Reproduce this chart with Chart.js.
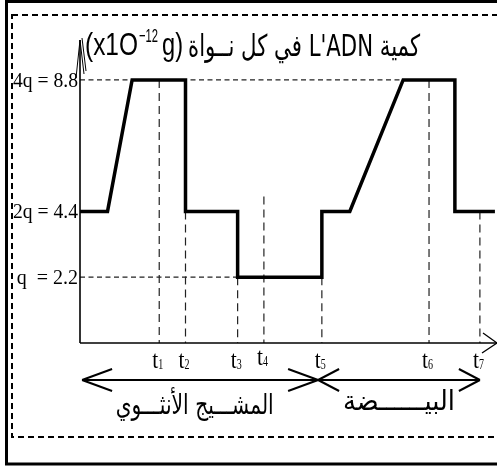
<!DOCTYPE html>
<html lang="ar">
<head>
<meta charset="utf-8">
<script src="https://cdn.jsdelivr.net/npm/chart.js@4.4.0/dist/chart.umd.min.js"></script>
<style>
    body { margin: 0; background: #fff; }
    canvas { display: block; }
</style>
</head>
<body>
<canvas id="adn" width="497" height="468"></canvas>
<script>
// time (arbitrary units) and DNA quantity (x10^-12 g) along the curve
const stepTimes = [0, 6.6, 12.5, 25.3, 25.3, 37.8, 37.8, 58, 58, 64.7, 77.5, 89.9, 89.9, 99.5];
const dnaValues = [4.4, 4.4, 8.8, 8.8, 4.4, 4.4, 2.2, 2.2, 4.4, 4.4, 8.8, 8.8, 4.4, 4.4];

// moments t1..t7 and the height where their dashed guide starts
const markTimes = [19, 25.3, 37.8, 44.1, 58, 83.7, 95.9];
const markNames = ['1', '2', '3', '4', '5', '6', '7'];
const markTops = [8.8, 4.4, 2.2, 4.9, 2.2, 8.8, 4.4];

// y levels
const levelValues = [2.2, 4.4, 8.8];
const levelLabels = ['q  = 2.2', '2q = 4.4', '4q = 8.8'];
const levelEnds = [37.8, 0, 77.5];

// phases under the axis
const phaseStart = [0.5, 57.1];
const phaseEnd = [57.1, 95.9];
const phaseNames = ['المشـــيج الأنثـــوي', 'البيــــــضة'];
const phaseCenters = [27.5, 76.5];

const titleText = 'كمية L\'ADN في كل نــواة';

function line(ctx, x1, y1, x2, y2) {
    ctx.beginPath();
    ctx.moveTo(x1, y1);
    ctx.lineTo(x2, y2);
    ctx.stroke();
}

const sketch = {
    id: 'sketch',
    beforeDatasetsDraw(chart) {
        const ctx = chart.ctx;
        const x = chart.scales.x;
        const y = chart.scales.y;
        const x0 = x.getPixelForValue(0);
        ctx.save();
        ctx.strokeStyle = '#222';
        ctx.lineWidth = 1.2;

        // horizontal dashed guides
        ctx.setLineDash([5, 3.5]);
        levelValues.forEach((v, i) => {
            if (levelEnds[i] > 0) {
                line(ctx, x0, y.getPixelForValue(v), x.getPixelForValue(levelEnds[i]), y.getPixelForValue(v));
            }
        });

        // vertical dashed guides
        ctx.setLineDash([8, 5]);
        markTimes.forEach((t, i) => {
            const px = x.getPixelForValue(t);
            line(ctx, px, y.getPixelForValue(markTops[i]), px, y.getPixelForValue(0));
        });
        ctx.restore();
    },
    afterDatasetsDraw(chart) {
        const ctx = chart.ctx;
        const x = chart.scales.x;
        const y = chart.scales.y;
        const x0 = x.getPixelForValue(0);
        const y0 = y.getPixelForValue(0);
        const yTop = y.getPixelForValue(10);
        const xEnd = chart.width;

        ctx.save();
        ctx.strokeStyle = '#000';
        ctx.fillStyle = '#000';

        // axes
        ctx.lineWidth = 1.6;
        line(ctx, x0, y0, x0, yTop - 4);
        line(ctx, x0, y0, xEnd, y0);
        ctx.lineWidth = 1.3;
        line(ctx, xEnd, y0, xEnd - 14, y0 - 10);
        line(ctx, xEnd, y0, xEnd - 15, y0 + 10);
        ctx.lineWidth = 1;
        line(ctx, x0, yTop - 4, x0 - 4, yTop + 34);
        line(ctx, x0, yTop - 4, x0 + 4, yTop + 30);
        line(ctx, x0 + 2, yTop - 6, x0 + 6, yTop + 27);

        // y labels
        ctx.font = '20px "Liberation Serif", serif';
        ctx.textAlign = 'right';
        ctx.textBaseline = 'alphabetic';
        levelValues.forEach((v, i) => {
            ctx.fillText(levelLabels[i], x0 - 2, y.getPixelForValue(v) + 7, 65);
        });

        // t labels
        ctx.textAlign = 'left';
        markTimes.forEach((t, i) => {
            const px = x.getPixelForValue(t) - 7;
            const base = i === 3 ? 365 : 368;
            ctx.font = '25px "Liberation Serif", serif';
            ctx.fillText('t', px, base, 6);
            ctx.font = '15px "Liberation Serif", serif';
            ctx.fillText(markNames[i], px + 6, base + 1, 5);
        });

        // phase arrows
        const ay = 380;
        ctx.lineWidth = 2;
        phaseStart.forEach((s, i) => {
            const a = x.getPixelForValue(s);
            const b = x.getPixelForValue(phaseEnd[i]);
            line(ctx, a, ay, b, ay);
            const head = i === 0 ? 30 : 21;
            line(ctx, a, ay, a + head, ay - 11);
            line(ctx, a, ay, a + head, ay + 11);
            line(ctx, b, ay, b - head, ay - 11);
            line(ctx, b, ay, b - head, ay + 11);
        });

        // phase names
        ctx.textAlign = 'center';
        ctx.direction = 'rtl';
        ctx.font = '28px "DejaVu Sans", sans-serif';
        phaseNames.forEach((n, i) => {
            const maxW = i === 0 ? 158 : 112;
            ctx.fillText(n, x.getPixelForValue(phaseCenters[i]), 414 - i * 4, maxW);
        });

        // title
        ctx.direction = 'ltr';
        ctx.textAlign = 'left';
        ctx.font = '31px "Liberation Sans", sans-serif';
        ctx.fillText('(x1O', 85, 55, 53);
        ctx.font = '19px "Liberation Sans", sans-serif';
        ctx.fillText('\u221212', 139, 42, 19);
        ctx.font = '31px "Liberation Sans", sans-serif';
        ctx.fillText('g)', 162, 55, 21);
        ctx.direction = 'rtl';
        ctx.textAlign = 'right';
        ctx.font = '30px "DejaVu Sans", sans-serif';
        ctx.fillText(titleText, 420, 56, 232);

        // frames
        ctx.direction = 'ltr';
        ctx.lineWidth = 3;
        ctx.setLineDash([]);
        ctx.strokeRect(6.5, 1.5, 520, 462.5);
        ctx.lineWidth = 2;
        ctx.setLineDash([6, 4]);
        ctx.strokeRect(12, 15, 520, 422);
        ctx.restore();
    }
};

new Chart(document.getElementById('adn'), {
    type: 'scatter',
    data: {
        datasets: [{
            data: stepTimes.map((t, i) => ({ x: t, y: dnaValues[i] })),
            showLine: true,
            borderColor: '#000',
            borderWidth: 3.5,
            pointRadius: 0,
            tension: 0,
            clip: false,
            borderJoinStyle: 'miter',
        }]
    },
    options: {
        responsive: false,
        animation: false,
        layout: {
            padding: { left: 80, right: 0, top: 44, bottom: 125 }
        },
        scales: {
            x: { type: 'linear', min: 0, max: 100, display: false },
            y: { type: 'linear', min: 0, max: 10, display: false }
        },
        plugins: {
            legend: { display: false },
            tooltip: { enabled: false },
        }
    },
    plugins: [sketch]
});
</script>
</body>
</html>
